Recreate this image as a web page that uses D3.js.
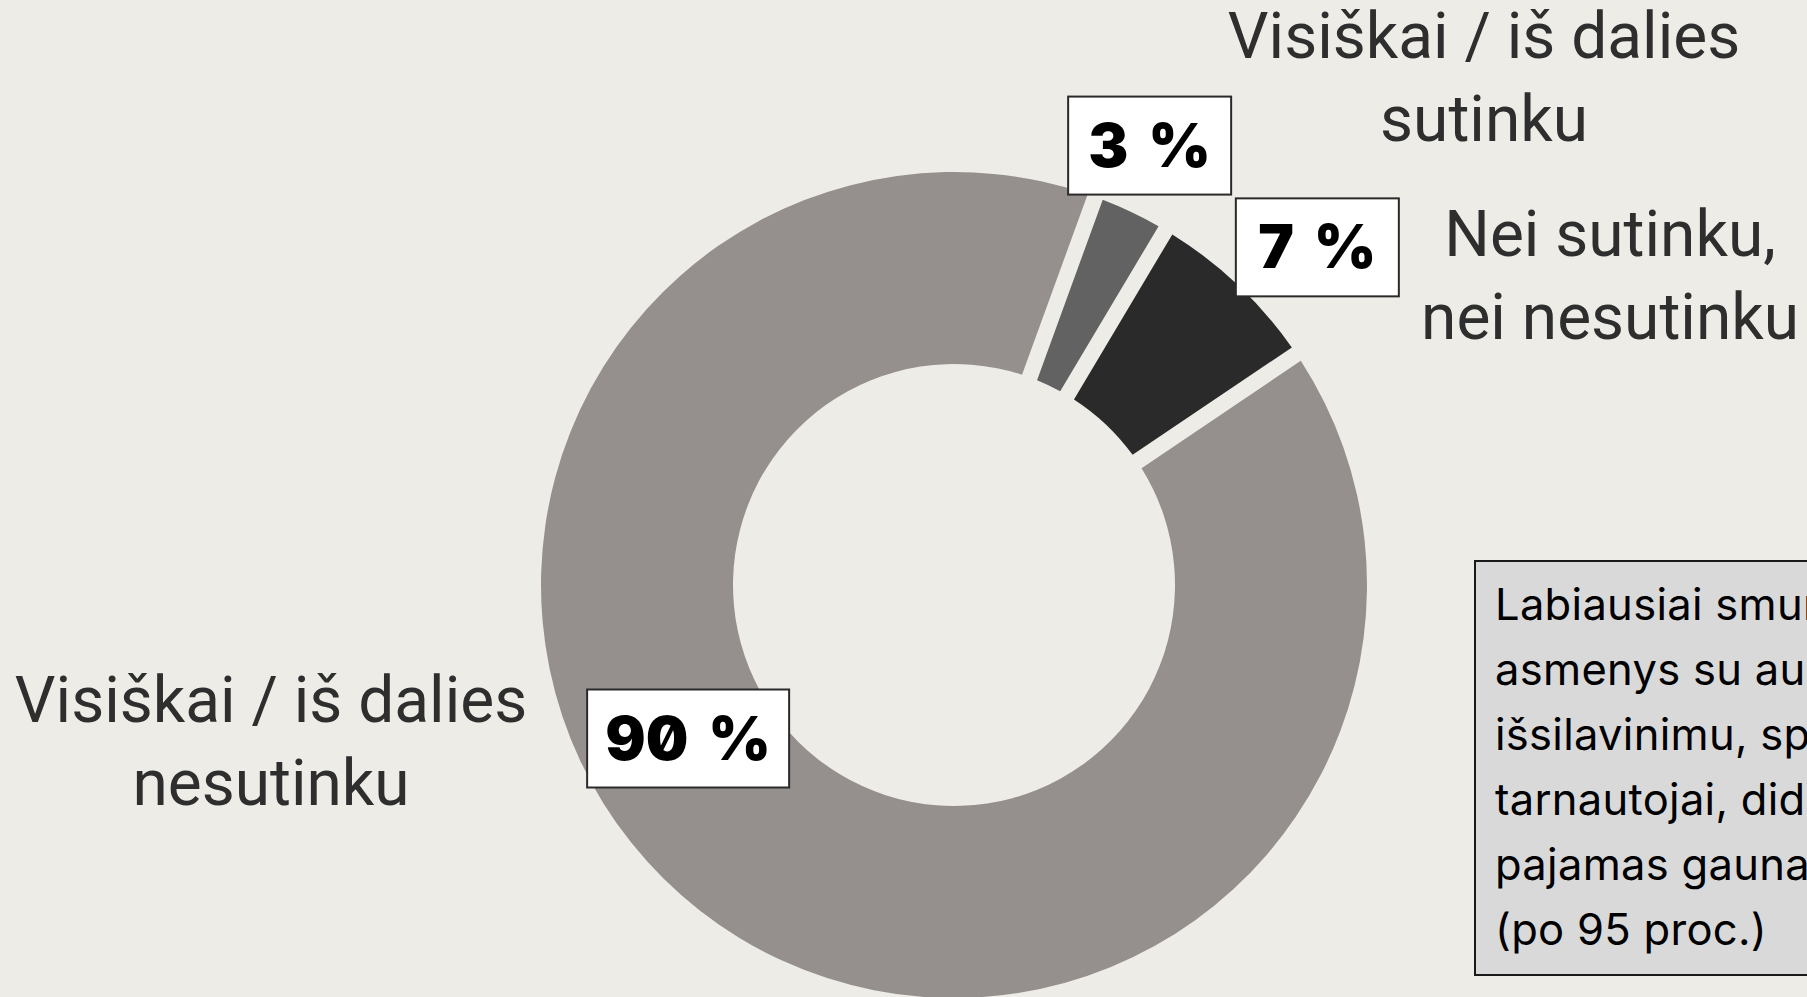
<!DOCTYPE html>
<html>
<head>
<meta charset="utf-8">
<script src="https://cdn.jsdelivr.net/npm/d3@7"></script>
<style>
  html, body { margin: 0; padding: 0; background: #edece6; overflow: hidden; }
  svg { display: block; }
</style>
</head>
<body>
<svg id="chart" width="1807" height="997"></svg>
<script>
// Survey answer shares (percent)
const categories = [
  "Visiškai / iš dalies sutinku",
  "Nei sutinku, nei nesutinku",
  "Visiškai / iš dalies nesutinku"
];
const values = [3, 7, 90];
const valueLabels = ["3 %", "7 %", "90 %"];
const categoryLines = [
  ["Visiškai / iš dalies", "sutinku"],
  ["Nei sutinku,", "nei nesutinku"],
  ["Visiškai / iš dalies", "nesutinku"]
];
const noteLines = [
  "Labiausiai smurtui nepritaria",
  "asmenys su aukštuoju",
  "išsilavinimu, specialistai,",
  "tarnautojai, didesnes",
  "pajamas gaunantys",
  "(po 95 proc.)"
];

const W = 1807, H = 997;
const cx = 954, cy = 585;
const outerR = 413, innerR = 221;
const gap = 16;
const colors = d3.scaleOrdinal().domain(categories).range(["#626262", "#2a2a2a", "#958f8e"]);

const svg = d3.select("#chart");
svg.append("rect").attr("width", W).attr("height", H).attr("fill", "#edece6");

const data = categories.map((c, i) => ({ category: c, value: values[i], label: valueLabels[i], lines: categoryLines[i] }));

const pie = d3.pie()
  .sort(null)
  .value(d => d.value)
  .startAngle(20 * Math.PI / 180)
  .endAngle(380 * Math.PI / 180);

const arc = d3.arc()
  .innerRadius(innerR)
  .outerRadius(outerR)
  .padRadius(outerR)
  .padAngle(gap / outerR);

const arcs = pie(data);
const g = svg.append("g").attr("transform", `translate(${cx},${cy})`);

g.selectAll("path.slice")
  .data(arcs)
  .join("path")
  .attr("class", "slice")
  .attr("d", arc)
  .attr("fill", d => colors(d.data.category));

// Value label placement: angle shift from slice mid-angle (deg), radius, box width
const labelLayout = [
  { shift: -1.4, r: 481, w: 163 },
  { shift: 3.7, r: 496, w: 163 },
  { shift: 22, r: 307, w: 202 }
];
const boxH = 98;

const lab = g.selectAll("g.vlabel")
  .data(arcs)
  .join("g")
  .attr("class", "vlabel")
  .attr("transform", (d, i) => {
    const mid = (d.startAngle + d.endAngle) / 2 + labelLayout[i].shift * Math.PI / 180;
    const [x, y] = d3.pointRadial(mid, labelLayout[i].r);
    return `translate(${x},${y})`;
  });

lab.append("rect")
  .attr("x", (d, i) => -labelLayout[i].w / 2)
  .attr("y", -boxH / 2)
  .attr("width", (d, i) => labelLayout[i].w)
  .attr("height", boxH)
  .attr("fill", "#ffffff")
  .attr("stroke", "#2a2a2a")
  .attr("stroke-width", 2);

lab.append("text")
  .attr("text-anchor", "middle")
  .attr("y", 21)
  .style("font-family", "Inter, 'Noto Sans', sans-serif")
  .style("font-weight", 900)
  .style("font-size", "60px")
  .style("word-spacing", "8px")
  .style("font-feature-settings", "'zero' 1")
  .attr("fill", "#000")
  .text(d => d.data.label);

// Category names
const catPos = [
  { x: 1484, y: 58 },
  { x: 1610, y: 256 },
  { x: 271, y: 722 }
];
const lineStep = 83;

svg.selectAll("text.cat")
  .data(data)
  .join("text")
  .attr("class", "cat")
  .attr("text-anchor", "middle")
  .attr("x", (d, i) => catPos[i].x)
  .attr("y", (d, i) => catPos[i].y)
  .style("font-family", "Roboto, 'Noto Sans', sans-serif")
  .style("font-size", "64px")
  .attr("fill", "#2e2e2e")
  .selectAll("tspan")
  .data(d => d.lines)
  .join("tspan")
  .attr("x", function() { return d3.select(this.parentNode).attr("x"); })
  .attr("dy", (d, j) => j === 0 ? 0 : lineStep)
  .text(d => d);

// Side note
const note = svg.append("g").attr("transform", "translate(1475,561)");
note.append("rect")
  .attr("width", 420)
  .attr("height", 414)
  .attr("fill", "#d9d9d9")
  .attr("stroke", "#1a1a1a")
  .attr("stroke-width", 2);
note.append("text")
  .style("font-family", "Inter, 'Noto Sans', sans-serif")
  .style("font-size", "43.5px")
  .style("letter-spacing", "0.3px")
  .attr("fill", "#000")
  .selectAll("tspan")
  .data(noteLines)
  .join("tspan")
  .attr("x", 20)
  .attr("y", (d, i) => 59 + i * 65)
  .text(d => d);
</script>
</body>
</html>
